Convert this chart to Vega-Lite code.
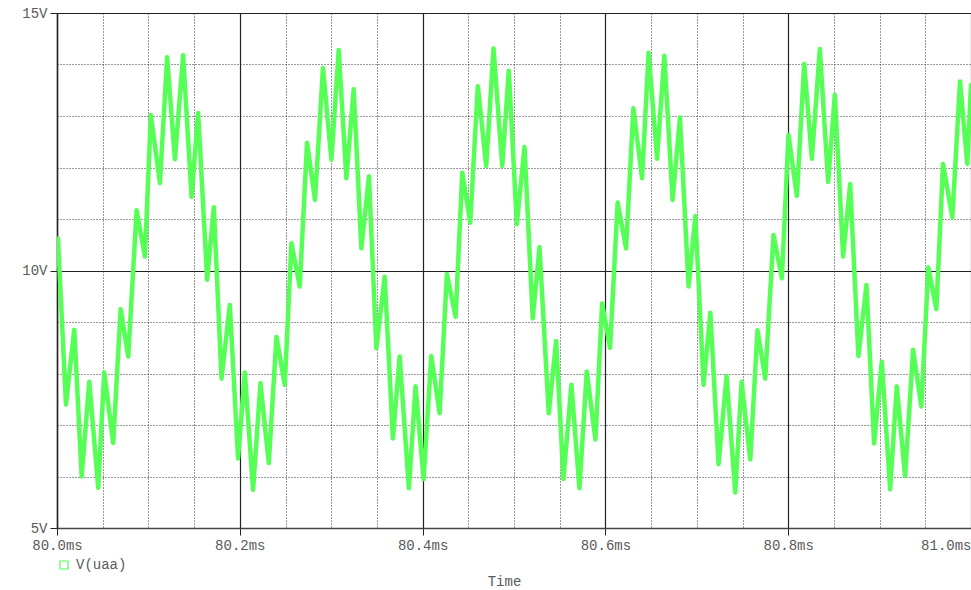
{
  "$schema": "https://vega.github.io/schema/vega-lite/v6.json",
  "width": 914,
  "height": 515,
  "autosize": {"type": "none"},
  "padding": {"left": 57, "top": 13, "right": 0, "bottom": 62},
  "background": "white",
  "config": {
    "view": {"stroke": null},
    "font": "Liberation Mono"
  },
  "data": {
    "values": [
      {"t":80.0000,"v":10.50},{"t":80.0011,"v":10.62},{"t":80.0098,"v":7.40},{"t":80.0189,"v":8.85},
      {"t":80.0270,"v":6.00},{"t":80.0353,"v":7.84},{"t":80.0451,"v":5.78},{"t":80.0517,"v":8.02},
      {"t":80.0615,"v":6.65},{"t":80.0696,"v":9.25},{"t":80.0779,"v":8.33},{"t":80.0871,"v":11.17},
      {"t":80.0962,"v":10.27},{"t":80.1027,"v":13.02},{"t":80.1126,"v":11.70},{"t":80.1205,"v":14.14},
      {"t":80.1290,"v":12.16},{"t":80.1380,"v":14.18},{"t":80.1472,"v":11.43},{"t":80.1544,"v":13.06},
      {"t":80.1643,"v":9.82},{"t":80.1716,"v":11.23},{"t":80.1800,"v":7.90},{"t":80.1891,"v":9.33},
      {"t":80.1981,"v":6.35},{"t":80.2055,"v":8.02},{"t":80.2145,"v":5.74},{"t":80.2226,"v":7.81},
      {"t":80.2317,"v":6.26},{"t":80.2401,"v":8.71},{"t":80.2492,"v":7.78},{"t":80.2565,"v":10.53},
      {"t":80.2656,"v":9.69},{"t":80.2736,"v":12.48},{"t":80.2823,"v":11.37},{"t":80.2910,"v":13.93},
      {"t":80.3002,"v":12.15},{"t":80.3082,"v":14.28},{"t":80.3166,"v":11.79},{"t":80.3246,"v":13.52},
      {"t":80.3330,"v":10.43},{"t":80.3413,"v":11.83},{"t":80.3494,"v":8.49},{"t":80.3585,"v":9.88},
      {"t":80.3675,"v":6.74},{"t":80.3749,"v":8.33},{"t":80.3850,"v":5.77},{"t":80.3923,"v":7.75},
      {"t":80.4011,"v":5.95},{"t":80.4095,"v":8.34},{"t":80.4186,"v":7.23},{"t":80.4266,"v":9.93},
      {"t":80.4361,"v":9.10},{"t":80.4434,"v":11.90},{"t":80.4521,"v":10.93},{"t":80.4604,"v":13.58},
      {"t":80.4696,"v":12.03},{"t":80.4776,"v":14.31},{"t":80.4871,"v":12.03},{"t":80.4943,"v":13.88},
      {"t":80.5031,"v":10.90},{"t":80.5115,"v":12.40},{"t":80.5205,"v":9.07},{"t":80.5279,"v":10.45},
      {"t":80.5380,"v":7.23},{"t":80.5461,"v":8.63},{"t":80.5541,"v":5.95},{"t":80.5628,"v":7.78},
      {"t":80.5716,"v":5.77},{"t":80.5796,"v":8.04},{"t":80.5891,"v":6.72},{"t":80.5964,"v":9.36},
      {"t":80.6051,"v":8.50},{"t":80.6134,"v":11.32},{"t":80.6226,"v":10.43},{"t":80.6306,"v":13.15},
      {"t":80.6401,"v":11.79},{"t":80.6473,"v":14.23},{"t":80.6565,"v":12.17},{"t":80.6645,"v":14.17},
      {"t":80.6735,"v":11.37},{"t":80.6816,"v":12.97},{"t":80.6910,"v":9.69},{"t":80.6984,"v":11.06},
      {"t":80.7074,"v":7.78},{"t":80.7148,"v":9.18},{"t":80.7238,"v":6.24},{"t":80.7326,"v":7.95},
      {"t":80.7421,"v":5.69},{"t":80.7490,"v":7.84},{"t":80.7585,"v":6.33},{"t":80.7664,"v":8.84},
      {"t":80.7749,"v":7.90},{"t":80.7839,"v":10.69},{"t":80.7931,"v":9.85},{"t":80.8003,"v":12.63},
      {"t":80.8095,"v":11.45},{"t":80.8175,"v":14.01},{"t":80.8259,"v":12.17},{"t":80.8346,"v":14.30},
      {"t":80.8437,"v":11.72},{"t":80.8510,"v":13.41},{"t":80.8601,"v":10.27},{"t":80.8678,"v":11.68},
      {"t":80.8768,"v":8.34},{"t":80.8856,"v":9.72},{"t":80.8940,"v":6.64},{"t":80.9024,"v":8.23},
      {"t":80.9115,"v":5.75},{"t":80.9188,"v":7.75},{"t":80.9279,"v":6.01},{"t":80.9366,"v":8.46},
      {"t":80.9457,"v":7.36},{"t":80.9533,"v":10.06},{"t":80.9621,"v":9.25},{"t":80.9694,"v":12.07},
      {"t":80.9796,"v":11.03},{"t":80.9880,"v":13.67},{"t":80.9959,"v":12.07},{"t":81.0000,"v":13.60}
    ]
  },
  "mark": {"type": "line", "strokeWidth": 4.5, "strokeJoin": "round", "strokeCap": "round", "clip": true},
  "encoding": {
    "x": {
      "field": "t",
      "type": "quantitative",
      "scale": {"domain": [80.0, 81.0], "nice": false, "zero": false},
      "axis": {
        "values": [80.0,80.05,80.1,80.15,80.2,80.25,80.3,80.35,80.4,80.45,80.5,80.55,80.6,80.65,80.7,80.75,80.8,80.85,80.9,80.95,81.0],
        "labelExpr": "abs(datum.value*5 - round(datum.value*5)) < 0.001 ? format(datum.value, '.1f') + 'ms' : ''",
        "grid": true,
        "gridDash": {"condition": {"test": "abs(datum.value*5 - round(datum.value*5)) < 0.001", "value": []}, "value": [1, 2]},
        "gridColor": {"condition": {"test": "abs(datum.value*5 - round(datum.value*5)) < 0.001", "value": "#222222"}, "value": "#333333"},
        "gridWidth": {"condition": {"test": "abs(datum.value*5 - round(datum.value*5)) < 0.001", "value": 1.2}, "value": 1},
        "gridOpacity": 1,
        "ticks": true,
        "tickSize": 7,
        "tickColor": "#222222",
        "tickOpacity": {"condition": {"test": "abs(datum.value*5 - round(datum.value*5)) < 0.001", "value": 1}, "value": 0},
        "domainColor": "#444444",
        "domainWidth": 1.5,
        "labelFont": "Liberation Mono",
        "labelFontSize": 14,
        "labelColor": "#5a5a5a",
        "labelPadding": 3,
        "labelAlign": {"condition": {"test": "datum.value > 80.99", "value": "right"}, "value": "center"},
        "labelOverlap": false,
        "labelBound": false,
        "labelFlush": false,
        "title": "Time",
        "titleFont": "Liberation Mono",
        "titleFontSize": 14,
        "titleFontWeight": "normal",
        "titleColor": "#5a5a5a",
        "titleX": 447,
        "titleY": 57,
        "titleAlign": "center",
        "titleBaseline": "alphabetic"
      }
    },
    "y": {
      "field": "v",
      "type": "quantitative",
      "scale": {"domain": [5, 15], "nice": false, "zero": false},
      "axis": {
        "values": [5,6,7,8,9,10,11,12,13,14,15],
        "labelExpr": "datum.value % 5 === 0 ? datum.value + 'V' : ''",
        "grid": true,
        "gridDash": {"condition": {"test": "datum.value % 5 === 0", "value": []}, "value": [1, 2]},
        "gridColor": {"condition": {"test": "datum.value % 5 === 0", "value": "#222222"}, "value": "#333333"},
        "gridWidth": {"condition": {"test": "datum.value % 5 === 0", "value": 1.2}, "value": 1},
        "ticks": true,
        "tickSize": 7,
        "tickColor": "#222222",
        "tickOpacity": {"condition": {"test": "datum.value % 5 === 0", "value": 1}, "value": 0},
        "domainColor": "#222222",
        "domainWidth": 1.5,
        "labelFont": "Liberation Mono",
        "labelFontSize": 14,
        "labelColor": "#5a5a5a",
        "labelPadding": 3,
        "labelOverlap": false,
        "labelBound": false,
        "labelFlush": false,
        "title": null
      }
    },
    "color": {
      "datum": "V(uaa)",
      "scale": {"range": ["#55ff55"]},
      "legend": {
        "orient": "none",
        "legendX": 0,
        "legendY": 545,
        "title": null,
        "padding": 0,
        "symbolType": "square",
        "symbolSize": 64,
        "symbolFillColor": "white",
        "symbolStrokeColor": "#55ff55",
        "symbolStrokeWidth": 1.2,
        "labelFont": "Liberation Mono",
        "labelFontSize": 14,
        "labelColor": "#5a5a5a",
        "labelOffset": 5
      }
    }
  }
}
